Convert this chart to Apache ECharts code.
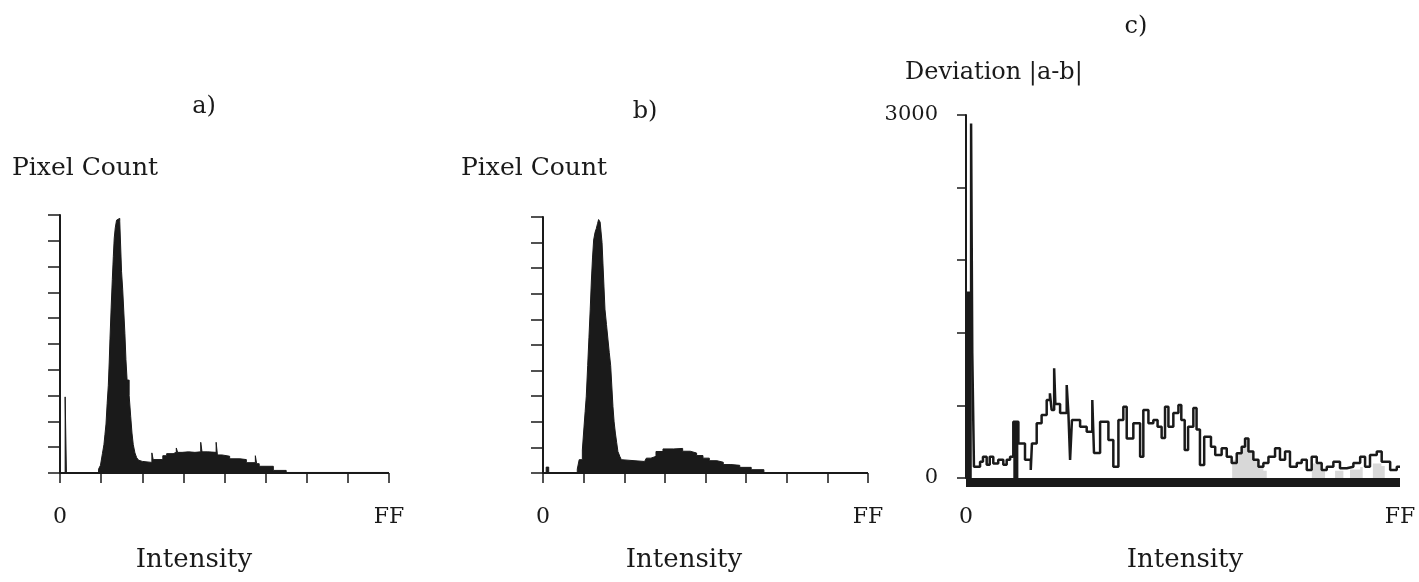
<!DOCTYPE html>
<html>
<head>
<meta charset="utf-8">
<script src="https://cdn.jsdelivr.net/npm/echarts@6/dist/echarts.min.js"></script>
<style>
html,body{margin:0;padding:0;background:#fff;}
#chart{width:1419px;height:582px;}
</style>
</head>
<body>
<div id="chart"></div>
<script>
// ---------- DATA ----------
// x-axis tick labels (intensity 0..FF)
var xTickLabels = {0: '0', 256: 'FF'};
var cYTickLabels = {0: '0', 3000: '3000'};

// a) histogram: step breakpoints (intensity) and pixel count (arbitrary units, 0..10)
var aIntensity = [0, 4, 5, 30, 31.5, 33, 34.2, 35, 35.8, 36.7, 37.6, 38.3, 38.9, 39.8, 40.7, 41.5, 42.2, 43, 44, 45, 46.5, 47.9, 48.8, 49.7, 50.5, 51.3, 52.2, 53.8, 55, 56, 57, 58.3, 59.6, 61, 62.2, 64, 71.5, 72.5, 80, 83, 88, 90.5, 91.5, 95, 100, 105, 109.5, 110.5, 115, 121.5, 122.5, 126, 132, 140, 145, 152, 153, 155, 166, 176, 256];
var aCount     = [0, 2.95, 0, 0.15, 0.3, 0.75, 1.1, 1.5, 1.9, 2.7, 3.4, 4.3, 5.2, 6.4, 7.5, 8.4, 9.1, 9.5, 9.8, 9.87, 9.75, 7.8, 7.1, 6.2, 5.4, 4.4, 3.6, 3.0, 2.2, 1.55, 1.1, 0.78, 0.6, 0.5, 0.45, 0.41, 0.78, 0.52, 0.67, 0.75, 0.8, 0.97, 0.8, 0.82, 0.8, 0.82, 1.19, 0.82, 0.8, 1.19, 0.7, 0.65, 0.55, 0.52, 0.4, 0.67, 0.36, 0.26, 0.1, 0.02, 0];

// b) histogram
var bIntensity = [0, 2.5, 4.5, 27, 28.5, 31, 32.3, 33.2, 34.1, 35.2, 36.2, 37.2, 38.1, 39, 39.9, 41, 42, 43, 43.8, 45, 45.9, 46.5, 47.2, 48, 48.8, 50, 51.2, 52.2, 53.3, 54.2, 55.1, 56, 57, 58, 59, 60.5, 61.7, 63, 80, 81.4, 85, 89, 94.5, 103, 110, 116, 121, 126, 131, 137, 142, 148, 155, 164, 174, 256];
var bCount     = [0, 0.23, 0, 0.15, 0.52, 0.9, 1.8, 2.4, 3.0, 4.2, 5.3, 6.4, 7.5, 8.4, 9.1, 9.4, 9.55, 9.75, 9.9, 9.8, 9.74, 9.0, 8.2, 7.3, 6.4, 5.8, 5.2, 4.7, 4.2, 3.4, 2.6, 2.0, 1.56, 1.2, 0.84, 0.65, 0.52, 0.45, 0.5, 0.58, 0.65, 0.84, 0.94, 0.96, 0.85, 0.78, 0.68, 0.58, 0.48, 0.42, 0.33, 0.3, 0.22, 0.13, 0, 0];

// c) deviation |a-b|
var cIntensity = [0, 3.0, 3.7, 4.7, 8.3, 10, 12.2, 14, 16.1, 19, 22, 24, 26, 27.9, 30.9, 34.8, 38.2, 38.9, 41.7, 44.6, 47.6, 49.5, 50.5, 52, 52.7, 55.5, 59.4, 60.4, 61.4, 62.5, 67.3, 71.2, 74.5, 75.5, 79.1, 84, 86.9, 89.9, 92.8, 94.8, 98.7, 102.7, 104.6, 107.6, 110.5, 113, 115.4, 117.4, 119.4, 122.3, 125.3, 127, 129, 131, 134.1, 136, 138, 140.5, 144.5, 147, 150.8, 153.8, 156.7, 159.7, 162.6, 164.6, 166.6, 169.5, 172.5, 175.4, 178.4, 182.3, 185.2, 188.2, 191.1, 195.1, 198, 201, 203.9, 206.9, 209.8, 212.8, 216.7, 220.6, 224.6, 228.5, 232.5, 235.4, 238.3, 242.3, 245.2, 250.2, 254.1, 256];
var cDeviation = [1530, 2930, 1030, 93, 135, 176, 110, 176, 120, 150, 110, 150, 176, 465, 286, 150, 66, 286, 452, 520, 645, 700, 562, 906, 612, 537, 769, 537, 150, 479, 424, 383, 645, 206, 465, 314, 93, 479, 589, 327, 452, 176, 562, 452, 479, 424, 330, 589, 424, 537, 603, 480, 231, 424, 578, 400, 107, 341, 259, 190, 245, 176, 124, 204, 259, 327, 218, 150, 93, 124, 176, 245, 150, 218, 93, 124, 150, 66, 176, 124, 66, 93, 135, 80, 93, 124, 176, 93, 190, 218, 135, 66, 93, 93];
// dark filled parts of c)
var cDarkIntensity = [0, 3.4, 27.9, 30.9, 256];
var cDarkLevel     = [1530, 0, 465, 0, 0];
// light grey filled parts of c)
var cGreyIntensity = [0, 157, 160, 162.6, 164.6, 166.6, 169.5, 172.5, 175.4, 177.4, 204, 206.9, 209.8, 211.8, 217.7, 222.6, 226.5, 232.5, 234, 240, 245, 247, 256];
var cGreyLevel     = [0, 150, 204, 259, 327, 218, 150, 93, 60, 0, 120, 124, 66, 0, 60, 0, 70, 90, 0, 120, 100, 0, 0];

// ---------- CHART ----------
function pairs(xs, ys) { return xs.map(function (x, i) { return [x, ys[i]]; }); }
var FONT = '"DejaVu Serif", serif';
var INK = '#1a1a1a';

function xAxisDef(gridIndex, margin, lineWidth, offset, ticks) {
  return {
    type: 'value', gridIndex: gridIndex, min: 0, max: 256, interval: 32, offset: offset,
    axisLine: {show: true, onZero: false, lineStyle: {color: INK, width: lineWidth, cap: 'butt'}},
    axisTick: {show: ticks, inside: false, length: 10, lineStyle: {color: INK, width: 1.5}},
    axisLabel: {show: true, margin: margin, color: INK, fontFamily: FONT, fontSize: 22,
      formatter: function (v) { return xTickLabels[v] !== undefined ? xTickLabels[v] : ''; }},
    splitLine: {show: false}
  };
}
function yAxisHist(gridIndex) {
  return {
    type: 'value', gridIndex: gridIndex, min: 0, max: 10, interval: 1,
    axisLine: {show: true, onZero: false, lineStyle: {color: INK, width: 2}},
    axisTick: {show: true, inside: false, length: 12, lineStyle: {color: INK, width: 1.5}},
    axisLabel: {show: false},
    splitLine: {show: false}
  };
}
function txt(x, y, s, size, align) {
  return {type: 'text', x: x, y: y, silent: true,
    style: {text: s, fill: INK, font: size + 'px ' + FONT, textAlign: align || 'center', align: align || 'center',
      textVerticalAlign: 'middle', verticalAlign: 'middle'}};
}

var chart = echarts.init(document.getElementById('chart'), null, {renderer: 'canvas'});
chart.setOption({
  animation: false,
  backgroundColor: '#ffffff',
  grid: [
    {left: 60, top: 215, width: 329, height: 258},
    {left: 543, top: 217, width: 325, height: 256},
    {left: 966, top: 115, width: 434, height: 363}
  ],
  xAxis: [
    xAxisDef(0, 33, 2, 0, true),
    xAxisDef(1, 33, 2, 0, true),
    xAxisDef(2, 24, 9, 4, false)
  ],
  yAxis: [
    yAxisHist(0),
    yAxisHist(1),
    {
      type: 'value', gridIndex: 2, min: 0, max: 3000, interval: 600,
      axisLine: {show: true, onZero: false, lineStyle: {color: INK, width: 2}},
      axisTick: {show: true, inside: false, length: 9, lineStyle: {color: INK, width: 1.5}},
      axisLabel: {show: true, margin: 28, color: INK, fontFamily: FONT, fontSize: 21, padding: [0, 0, 12, 0],
        formatter: function (v) { return cYTickLabels[v] !== undefined ? cYTickLabels[v] : ''; }},
      splitLine: {show: false}
    }
  ],
  series: [
    {name: 'a', type: 'line', xAxisIndex: 0, yAxisIndex: 0, step: 'end', symbol: 'none',
      data: pairs(aIntensity, aCount), lineStyle: {color: INK, width: 1}, areaStyle: {color: INK, opacity: 1}},
    {name: 'b', type: 'line', xAxisIndex: 1, yAxisIndex: 1, step: 'end', symbol: 'none',
      data: pairs(bIntensity, bCount), lineStyle: {color: INK, width: 1}, areaStyle: {color: INK, opacity: 1}},
    {name: 'c grey', type: 'line', xAxisIndex: 2, yAxisIndex: 2, step: 'end', symbol: 'none',
      data: pairs(cGreyIntensity, cGreyLevel), lineStyle: {width: 0, opacity: 0}, areaStyle: {color: '#d8d8d8', opacity: 1}},
    {name: 'c dark', type: 'line', xAxisIndex: 2, yAxisIndex: 2, step: 'end', symbol: 'none',
      data: pairs(cDarkIntensity, cDarkLevel), lineStyle: {width: 0, opacity: 0}, areaStyle: {color: INK, opacity: 1}},
    {name: 'c', type: 'line', xAxisIndex: 2, yAxisIndex: 2, step: 'end', symbol: 'none',
      data: pairs(cIntensity, cDeviation), lineStyle: {color: INK, width: 2.5}}
  ],
  graphic: [
    txt(204, 107, 'a)', 24),
    txt(645, 112, 'b)', 24),
    txt(1136, 27, 'c)', 24),
    txt(12, 168, 'Pixel Count', 25, 'left'),
    txt(461, 168, 'Pixel Count', 25, 'left'),
    txt(905, 73, 'Deviation |a-b|', 24, 'left'),
    txt(194, 560, 'Intensity', 26),
    txt(684, 560, 'Intensity', 26),
    txt(1185, 560, 'Intensity', 26)
  ]
});
</script>
</body>
</html>
